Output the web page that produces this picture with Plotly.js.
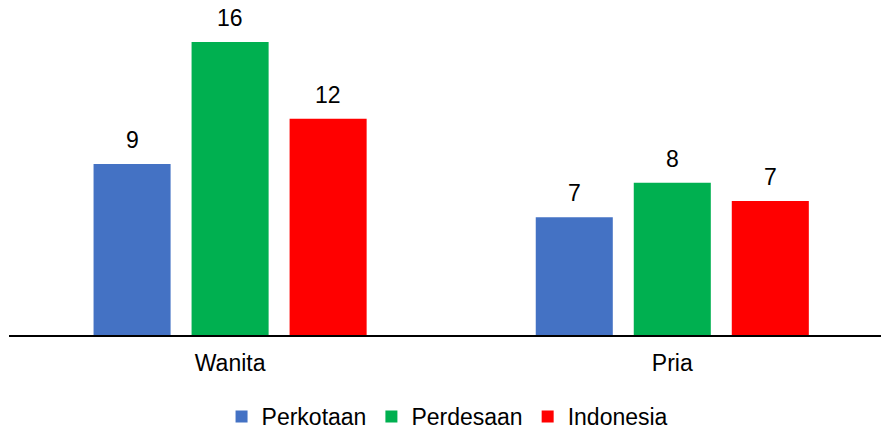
<!DOCTYPE html>
<html>
<head>
<meta charset="utf-8">
<script src="https://cdn.plot.ly/plotly-3.0.1.min.js"></script>
<style>html,body{margin:0;padding:0;background:#fff;}#chart{width:881px;height:438px;}</style>
</head>
<body>
<div id="chart"></div>
<script>
// Data
const categories = ["Wanita", "Pria"];
const seriesNames = ["Perkotaan", "Perdesaan", "Indonesia"];
const perkotaan = [9.47, 6.52];
const perdesaan = [16.23, 8.44];
const indonesia = [11.98, 7.42];
const seriesValues = [perkotaan, perdesaan, indonesia];
const seriesColors = ["#4472C4", "#00B050", "#FF0000"];

const FONT = "Liberation Sans, Arial, sans-serif";
const FS = 23;

const traces = seriesNames.map((name, i) => ({
  type: "bar",
  name: name,
  x: categories,
  y: seriesValues[i],
  marker: {color: seriesColors[i], line: {width: 0}},
  hoverinfo: "skip"
}));

// value labels above each bar
const barShift = [-98, 0, 98];
const annotations = [];
seriesValues.forEach((vals, i) => {
  vals.forEach((v, j) => {
    annotations.push({
      x: categories[j], y: v, xref: "x", yref: "y",
      text: String(Math.round(v)),
      showarrow: false, xshift: barShift[i], yshift: 24,
      yanchor: "middle", xanchor: "center",
      font: {family: FONT, size: FS, color: "#000"}
    });
  });
});

const layout = {
  width: 881, height: 438,
  margin: {l: 9, r: 0, t: 0, b: 103},
  paper_bgcolor: "#fff", plot_bgcolor: "#fff",
  barmode: "group", bargap: 0.335, bargroupgap: 0.214,
  font: {family: FONT, size: FS, color: "#000"},
  showlegend: true,
  legend: {
    orientation: "h", xref: "container", x: 0.508, xanchor: "center",
    yref: "container", y: -0.014, yanchor: "bottom",
    font: {family: FONT, size: FS, color: "#000"},
    itemclick: false, itemdoubleclick: false
  },
  xaxis: {
    type: "category", range: [-0.5, 1.472], fixedrange: true,
    showline: true, linecolor: "#000", linewidth: 2,
    ticks: "", showgrid: false, zeroline: false,
    tickfont: {family: FONT, size: FS, color: "#000"},
    ticklabelstandoff: 6
  },
  yaxis: {
    range: [0, 18.56], fixedrange: true,
    showticklabels: false, showgrid: false, zeroline: false, showline: false, ticks: ""
  },
  annotations: annotations
};

Plotly.newPlot("chart", traces, layout, {displayModeBar: false, staticPlot: true});
</script>
</body>
</html>
